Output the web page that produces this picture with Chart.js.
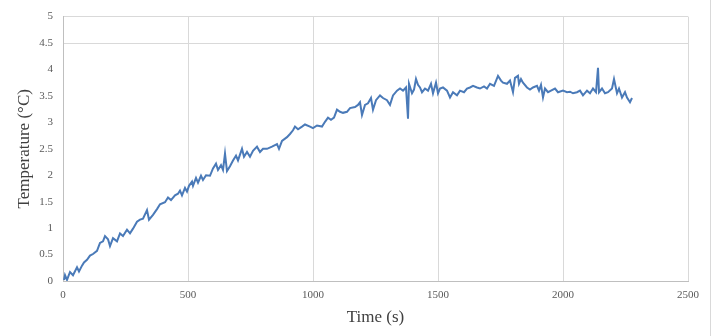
<!DOCTYPE html>
<html>
<head>
<meta charset="utf-8">
<script src="https://cdn.jsdelivr.net/npm/chart.js@4"></script>
<style>
    body { margin: 0; background: #fff; }
</style>
</head>
<body>
<canvas id="tempChart" width="724" height="336"></canvas>
<script>
// values
const times = [
    4, 8, 16, 28, 40, 56, 64, 76, 84, 96, 108, 120, 136, 148, 160, 168, 180, 188, 200, 216,
    228, 240, 256, 268, 280, 296, 308, 320, 336, 344, 360, 376, 388, 408, 420, 432, 448, 460, 468, 476,
    488, 496, 504, 516, 520, 532, 540, 552, 560, 572, 588, 600, 612, 620, 632, 640, 648, 656, 668, 680,
    692, 700, 716, 724, 736, 748, 760, 776, 788, 800, 816, 836, 856, 864, 876, 896, 908, 920, 928, 940,
    956, 968, 988, 1000, 1016, 1036, 1048, 1060, 1072, 1084, 1096, 1108, 1120, 1136, 1148, 1168, 1180, 1188, 1196, 1208,
    1220, 1232, 1240, 1252, 1268, 1280, 1296, 1308, 1320, 1336, 1348, 1360, 1372, 1380, 1384, 1396, 1404, 1412, 1420, 1428,
    1436, 1448, 1460, 1472, 1480, 1492, 1500, 1508, 1520, 1536, 1548, 1560, 1576, 1588, 1604, 1616, 1628, 1640, 1656, 1668,
    1684, 1696, 1708, 1724, 1740, 1752, 1760, 1776, 1788, 1800, 1808, 1820, 1824, 1832, 1840, 1856, 1868, 1880, 1896, 1904,
    1912, 1920, 1928, 1940, 1952, 1968, 1980, 2000, 2016, 2028, 2040, 2056, 2068, 2080, 2096, 2108, 2120, 2132, 2140, 2144,
    2156, 2168, 2180, 2196, 2204, 2216, 2224, 2236, 2248, 2256, 2268, 2276
];
const temps = [
    0.02, 0.11, 0.02, 0.17, 0.11, 0.26, 0.18, 0.29, 0.35, 0.40, 0.48, 0.51, 0.57, 0.72, 0.75, 0.85, 0.79, 0.66, 0.81, 0.75,
    0.90, 0.85, 0.97, 0.90, 0.99, 1.12, 1.16, 1.18, 1.34, 1.16, 1.25, 1.36, 1.45, 1.49, 1.58, 1.53, 1.62, 1.65, 1.71, 1.62,
    1.76, 1.69, 1.80, 1.88, 1.80, 1.95, 1.86, 1.99, 1.91, 2.00, 1.99, 2.13, 2.22, 2.10, 2.19, 2.10, 2.41, 2.08, 2.17, 2.28,
    2.37, 2.28, 2.50, 2.35, 2.44, 2.35, 2.46, 2.54, 2.44, 2.50, 2.50, 2.54, 2.59, 2.50, 2.65, 2.72, 2.78, 2.85, 2.92, 2.87,
    2.92, 2.96, 2.92, 2.89, 2.94, 2.92, 3.01, 3.09, 3.05, 3.09, 3.24, 3.20, 3.18, 3.20, 3.27, 3.29, 3.33, 3.38, 3.14, 3.33,
    3.36, 3.46, 3.24, 3.42, 3.51, 3.46, 3.42, 3.33, 3.51, 3.60, 3.64, 3.60, 3.66, 3.07, 3.73, 3.55, 3.62, 3.82, 3.71, 3.66,
    3.57, 3.64, 3.60, 3.73, 3.55, 3.75, 3.55, 3.64, 3.66, 3.60, 3.47, 3.57, 3.51, 3.60, 3.57, 3.64, 3.66, 3.69, 3.66, 3.64,
    3.68, 3.64, 3.73, 3.69, 3.88, 3.79, 3.75, 3.73, 3.79, 3.57, 3.84, 3.88, 3.73, 3.82, 3.75, 3.66, 3.62, 3.66, 3.69, 3.60,
    3.71, 3.47, 3.64, 3.57, 3.60, 3.64, 3.57, 3.60, 3.57, 3.58, 3.55, 3.57, 3.60, 3.51, 3.60, 3.55, 3.64, 3.57, 4.03, 3.57,
    3.64, 3.55, 3.57, 3.64, 3.82, 3.55, 3.64, 3.47, 3.57, 3.47, 3.38, 3.46
];
const xTickMax = 2500;
const yTickMax = 5;

const points = times.map((t, i) => ({ x: t, y: temps[i] }));

// thin frame line on the right edge, like the reference picture
const edgeLine = {
    id: "edgeLine",
    afterDraw(chart) {
        const ctx = chart.ctx;
        ctx.save();
        ctx.strokeStyle = "#d9d9d9";
        ctx.lineWidth = 1;
        ctx.beginPath();
        ctx.moveTo(710.5, 0);
        ctx.lineTo(710.5, 336);
        ctx.stroke();
        ctx.restore();
    },
};

new Chart(document.getElementById("tempChart"), {
    type: "scatter",
    data: {
        datasets: [
            {
                label: "Temperature",
                data: points,
                showLine: true,
                borderColor: "#4a7ab8",
                borderWidth: 2,
                pointRadius: 0,
                tension: 0,
            },
        ],
    },
    options: {
        responsive: false,
        animation: false,
        layout: { padding: { top: 9, right: 36, bottom: 0, left: 0 } },
        plugins: { legend: { display: false }, tooltip: { enabled: false } },
        scales: {
            x: {
                type: "linear",
                min: 0,
                max: xTickMax,
                ticks: {
                    stepSize: 500,
                    color: "#595959",
                    font: { family: "Liberation Serif", size: 11 },
                    padding: 8,
                    callback: (v) => String(v),
                },
                grid: { color: "#d9d9d9", drawTicks: false },
                border: { color: "#bfbfbf" },
                title: {
                    display: true,
                    text: "Time (s)",
                    color: "#404040",
                    font: { family: "Liberation Serif", size: 17 },
                    padding: { top: 2, bottom: 8 },
                },
                afterFit: (scale) => { scale.height = 55; },
            },
            y: {
                min: 0,
                max: yTickMax,
                ticks: {
                    stepSize: 0.5,
                    color: "#595959",
                    font: { family: "Liberation Serif", size: 11 },
                    padding: 10,
                    callback: (v) => String(v),
                },
                grid: {
                    drawTicks: false,
                    color: (ctx) => (ctx.tick && ctx.tick.value >= 4.5 ? "#d9d9d9" : "rgba(0,0,0,0)"),
                },
                border: { color: "#bfbfbf" },
                title: {
                    display: true,
                    text: "Temperature (°C)",
                    color: "#404040",
                    font: { family: "Liberation Serif", size: 17 },
                    padding: { top: 14, bottom: 0 },
                },
                afterFit: (scale) => { scale.width = 63; },
            },
        },
    },
    plugins: [edgeLine],
});
</script>
</body>
</html>
